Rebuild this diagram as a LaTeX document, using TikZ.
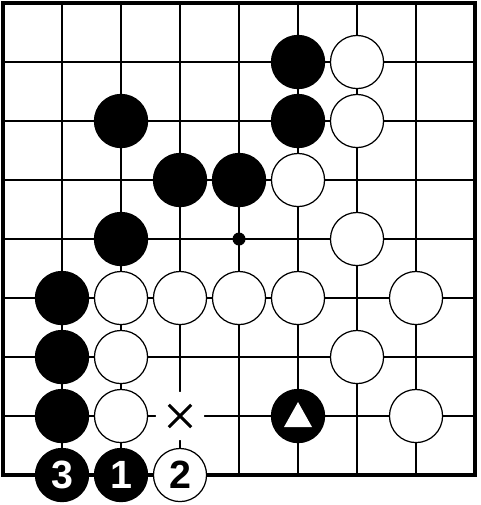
\documentclass[tikz,border=0pt]{standalone}
\usepackage{fontspec}
\setsansfont{Liberation Sans}
\usepackage{tikz}
\usetikzlibrary{positioning,calc}
\tikzset{blackstone/.style={circle,draw=black,fill=black,line width=0.6pt,minimum size=0.9cm,inner sep=0pt,text=white,font=\sffamily\bfseries\fontsize{19}{20}\selectfont},
	whitestone/.style={circle,draw=black,fill=white,line width=0.6pt,minimum size=0.9cm,inner sep=0pt,text=black,font=\sffamily\bfseries\fontsize{19}{20}\selectfont},
	gridline/.style={line width=0.6pt},
	boardframe/.style={line width=1.5pt}}

\begin{document}
\begin{tikzpicture}
		\useasboundingbox (-0.051,0.051) rectangle (8.085,-8.508);
		\draw[gridline] (0,0) grid (8,-8);
		\draw[boardframe] (0,0) rectangle (8,-8);
		\fill (4,-4) circle (0.11);
		% black stones
		\node[blackstone] (b51) at (5,-1) {};
		\node[blackstone] (b22) at (2,-2) {};
		\node[blackstone] (b52) at (5,-2) {};
		\node[blackstone] (b33) at (3,-3) {};
		\node[blackstone] (b43) at (4,-3) {};
		\node[blackstone] (b24) at (2,-4) {};
		\node[blackstone] (b15) at (1,-5) {};
		\node[blackstone] (b16) at (1,-6) {};
		\node[blackstone] (b17) at (1,-7) {};
		\node[blackstone] (marked) at (5,-7) {};
		\fill[white] (marked.center) ++(0,0.237) -- ++(0.237,-0.423) -- ++(-0.474,0) -- cycle;
		% white stones
		\node[whitestone] (w61) at (6,-1) {};
		\node[whitestone] (w62) at (6,-2) {};
		\node[whitestone] (w53) at (5,-3) {};
		\node[whitestone] (w64) at (6,-4) {};
		\node[whitestone] (w25) at (2,-5) {};
		\node[whitestone] (w35) at (3,-5) {};
		\node[whitestone] (w45) at (4,-5) {};
		\node[whitestone] (w55) at (5,-5) {};
		\node[whitestone] (w75) at (7,-5) {};
		\node[whitestone] (w26) at (2,-6) {};
		\node[whitestone] (w66) at (6,-6) {};
		\node[whitestone] (w27) at (2,-7) {};
		\node[whitestone] (w77) at (7,-7) {};
		% numbered moves
		\node[blackstone] (move3) at (1,-8) {3};
		\node[blackstone] (move1) at (2,-8) {1};
		\node[whitestone] (move2) at (3,-8) {2};
		% empty point marked with a cross
		\node[circle,fill=white,minimum size=0.82cm,inner sep=0pt] (cross) at (3,-7) {};
		\draw[line width=1.5pt] (cross.center) ++(-0.19,-0.19) -- ++(0.38,0.38);
		\draw[line width=1.5pt] (cross.center) ++(-0.19,0.19) -- ++(0.38,-0.38);
\end{tikzpicture}
\end{document}
